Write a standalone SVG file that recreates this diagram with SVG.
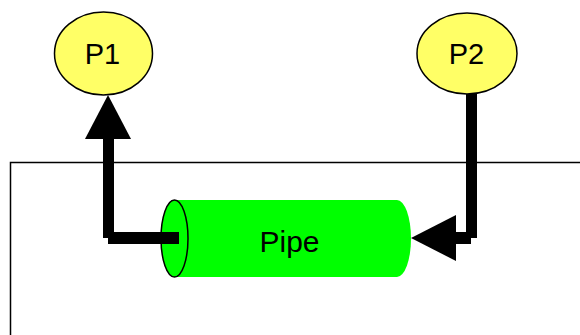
<svg xmlns="http://www.w3.org/2000/svg" width="580" height="335" viewBox="0 0 580 335">
<style>
.node{fill:#ffff66;stroke:#000;stroke-width:1.5}
.lbl{font-family:"Liberation Sans",Arial,sans-serif;font-size:29px;fill:#000;text-anchor:middle}
.conn{stroke:#000;fill:none;stroke-linecap:butt}
.head{fill:#000}
</style>
<rect id="frame" x="10.5" y="162.5" width="600" height="200" fill="#fff" stroke="#000" stroke-width="1.5"/>
<g id="pipe">
<rect x="174" y="200" width="223" height="77" fill="#00ff00"/>
<ellipse cx="397" cy="238.5" rx="14" ry="38.5" fill="#00ff00"/>
<ellipse cx="174.5" cy="238.5" rx="13.5" ry="38.5" fill="#00ff00" stroke="#000" stroke-width="1.5"/>
<text class="lbl" x="289.5" y="252" textLength="60" lengthAdjust="spacingAndGlyphs">Pipe</text>
</g>
<g id="P1">
<ellipse class="node" cx="103.5" cy="53.5" rx="49" ry="41.5"/>
<text class="lbl" x="102.5" y="64">P1</text>
</g>
<g id="P2">
<ellipse class="node" cx="467" cy="53.5" rx="50" ry="40.5"/>
<text class="lbl" x="466.5" y="64">P2</text>
</g>
<g id="connectors">
<line class="conn" x1="108.5" y1="138" x2="108.5" y2="238" stroke-width="11"/>
<line class="conn" x1="108" y1="238" x2="179" y2="238" stroke-width="12"/>
<polygon class="head" points="108,95 131,139 85,139"/>
<line class="conn" x1="471.5" y1="94" x2="471.5" y2="238" stroke-width="11"/>
<line class="conn" x1="455" y1="238" x2="471" y2="238" stroke-width="12"/>
<polygon class="head" points="411,238 456,215 456,261"/>
</g>
</svg>
